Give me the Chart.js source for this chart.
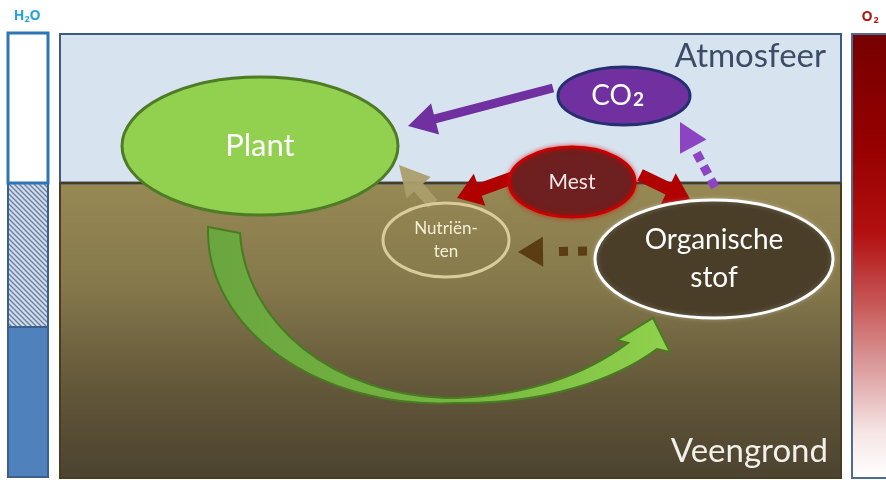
<!DOCTYPE html>
<html>
<head>
<meta charset="utf-8">
<script src="https://cdn.jsdelivr.net/npm/chart.js@4.4.0/dist/chart.umd.min.js"></script>
<style>
  html, body { margin: 0; padding: 0; background: #fff; }
  canvas { display: block; }
</style>
</head>
<body>
<canvas id="diagram" width="886" height="480"></canvas>
<script>
// diagram space is 886 x 480 units, y runs downwards
const nodeNames = ['Plant', 'CO2', 'Mest', 'Nutriënten', 'Organische stof']
const nodeLines = [['Plant'], ['CO'], ['Mest'], ['Nutriën-', 'ten'], ['Organische', 'stof']]
const nodeX = [260, 624, 572, 446, 714]
const nodeY = [146, 96, 182, 240, 259]
const nodeRadiusX = [138, 66, 63, 63, 119]
const nodeRadiusY = [69, 29, 35, 37, 59]

// flows between the nodes: start and end points
const flowStartX = [553, 716, 433, 512, 640, 591]
const flowStartY = [88, 189, 204, 178, 175, 251]
const flowEndX = [408, 680, 399, 457, 690, 518]
const flowEndY = [126, 122, 165, 198, 199, 252]

// green cycle arrow Plant -> Organische stof, outer and inner edges (bezier points)
const cycleOuter = [[208, 227], [205, 330], [320, 410], [457, 403], [545, 404], [615, 380], [657, 349]]
const cycleInner = [[628, 343], [585, 375], [530, 395], [457, 398], [330, 398], [245, 320], [240, 233]]
const cycleHead = [[617, 340], [653, 318], [670, 352]]

// water column (H2O) and oxygen column (O2) bands
const waterBands = ['onverzadigd', 'wisselend', 'verzadigd']
const waterLevels = [33, 183, 327, 477]
const surfaceLevel = 183
const panelTop = 34
const panelBottom = 478

const flowStyle = [
  { color: '#7030a0', shaft: 9, head: 28, width: 32 },
  { color: '#8b45c2', shaft: 9, head: 28, width: 30, dashed: true, period: 15, offset: 2 },
  { color: 'rgba(172,158,108,0.95)', shaft: 12, head: 30, width: 32 },
  { color: '#b00000', shaft: 13, head: 24, width: 34 },
  { color: '#b00000', shaft: 13, head: 24, width: 34 },
  { color: '#5a3d12', shaft: 9, head: 25, width: 30, dashed: true, period: 19, offset: 4 }
]

const nodeStyle = [
  { fill: '#92d050', stroke: '#4e7b25', text: '#ffffff', font: '31px Lato' },
  { fill: '#7030a0', stroke: '#25306e', text: '#ffffff', font: '28px Lato' },
  { fill: '#6e1f1f', stroke: '#c80000', text: '#f2e6e6', font: '21px Lato', glow: 'rgba(220,0,0,0.6)' },
  { fill: null, stroke: '#d8cc9c', text: '#f4eed6', font: '17px Lato' },
  { fill: '#4a3e28', stroke: '#ffffff', text: '#ffffff', font: '28px Lato', glow: 'rgba(255,255,255,0.25)' }
]

function hatchPattern(ctx) {
  const c = document.createElement('canvas')
  c.width = 5
  c.height = 5
  const g = c.getContext('2d')
  g.fillStyle = '#d3dce9'
  g.fillRect(0, 0, 5, 5)
  g.strokeStyle = '#6880a4'
  g.lineWidth = 1.4
  g.beginPath()
  g.moveTo(-1, -1); g.lineTo(6, 6)
  g.moveTo(-1, 4); g.lineTo(1, 6)
  g.moveTo(4, -1); g.lineTo(6, 1)
  g.stroke()
  return ctx.createPattern(c, 'repeat')
}

function drawArrow(ctx, x0, y0, x1, y1, s) {
  const ang = Math.atan2(y1 - y0, x1 - x0)
  const len = Math.hypot(x1 - x0, y1 - y0)
  ctx.save()
  ctx.translate(x0, y0)
  ctx.rotate(ang)
  ctx.fillStyle = s.color
  const base = len - s.head
  if (s.dashed) {
    for (let p = s.offset; p + s.shaft < base - 3; p += s.period) {
      ctx.fillRect(p, -s.shaft / 2, s.shaft, s.shaft)
    }
  } else {
    ctx.fillRect(0, -s.shaft / 2, base + 1, s.shaft)
  }
  ctx.beginPath()
  ctx.moveTo(len, 0)
  ctx.lineTo(base, -s.width / 2)
  ctx.lineTo(base, s.width / 2)
  ctx.closePath()
  ctx.fill()
  ctx.restore()
}

const diagramPlugin = {
  id: 'diagram',
  beforeDatasetsDraw(chart) {
    const ctx = chart.ctx
    const x = v => chart.scales.x.getPixelForValue(v)
    const y = v => chart.scales.y.getPixelForValue(v)
    ctx.save()

    // H2O column
    ctx.fillStyle = '#ffffff'
    ctx.fillRect(x(8), y(waterLevels[0]), x(48) - x(8), y(waterLevels[1]) - y(waterLevels[0]))
    ctx.fillStyle = hatchPattern(ctx)
    ctx.fillRect(x(8), y(waterLevels[1]), x(48) - x(8), y(waterLevels[2]) - y(waterLevels[1]))
    ctx.fillStyle = '#4f81bd'
    ctx.fillRect(x(8), y(waterLevels[2]), x(48) - x(8), y(waterLevels[3]) - y(waterLevels[2]))
    ctx.lineWidth = 2
    ctx.strokeStyle = '#3c5f90'
    ctx.strokeRect(x(8), y(waterLevels[1]), x(48) - x(8), y(waterLevels[2]) - y(waterLevels[1]))
    ctx.strokeRect(x(8), y(waterLevels[2]), x(48) - x(8), y(waterLevels[3]) - y(waterLevels[2]))
    ctx.lineWidth = 3
    ctx.strokeStyle = '#2e75b6'
    ctx.strokeRect(x(8), y(waterLevels[0]), x(48) - x(8), y(waterLevels[1]) - y(waterLevels[0]))
    ctx.fillStyle = '#27a3dc'
    ctx.font = 'bold 14px "Open Sans"'
    ctx.textAlign = 'center'
    ctx.textBaseline = 'alphabetic'
    ctx.fillText('H', x(19), y(20))
    ctx.fillText('O', x(35), y(20))
    ctx.font = 'bold 9px "Open Sans"'
    ctx.fillText('2', x(27), y(22))

    // O2 column
    const og = ctx.createLinearGradient(0, y(panelTop), 0, y(panelBottom))
    og.addColorStop(0, '#760000')
    og.addColorStop(0.25, '#960000')
    og.addColorStop(0.45, '#b31010')
    og.addColorStop(0.6, '#c65454')
    og.addColorStop(0.75, '#dc9c9c')
    og.addColorStop(0.9, '#f6e6e6')
    og.addColorStop(1, '#ffffff')
    ctx.fillStyle = og
    ctx.fillRect(x(852), y(panelTop), x(900) - x(852), y(panelBottom) - y(panelTop))
    ctx.lineWidth = 2
    ctx.strokeStyle = '#4f6b94'
    ctx.strokeRect(x(852), y(panelTop), x(900) - x(852), y(panelBottom) - y(panelTop))
    ctx.fillStyle = '#b01717'
    ctx.font = 'bold 14px "Open Sans"'
    ctx.fillText('O', x(867), y(21))
    ctx.font = 'bold 9px "Open Sans"'
    ctx.fillText('2', x(876), y(23))

    // main panel: atmosphere and peat soil
    ctx.fillStyle = '#d7e3ef'
    ctx.fillRect(x(60), y(panelTop), x(841) - x(60), y(surfaceLevel) - y(panelTop))
    const sg = ctx.createLinearGradient(0, y(surfaceLevel), 0, y(panelBottom))
    sg.addColorStop(0, '#978954')
    sg.addColorStop(0.35, '#85784b')
    sg.addColorStop(0.7, '#625739')
    sg.addColorStop(1, '#4c4330')
    ctx.fillStyle = sg
    ctx.fillRect(x(60), y(surfaceLevel), x(841) - x(60), y(panelBottom) - y(surfaceLevel))
    ctx.lineWidth = 3
    ctx.strokeStyle = '#41587a'
    ctx.beginPath()
    ctx.moveTo(x(60), y(surfaceLevel))
    ctx.lineTo(x(841), y(surfaceLevel))
    ctx.stroke()
    ctx.lineWidth = 2
    ctx.strokeStyle = '#3f5a80'
    ctx.strokeRect(x(60), y(panelTop), x(841) - x(60), y(surfaceLevel) - y(panelTop))
    ctx.strokeStyle = '#4a3c22'
    ctx.strokeRect(x(60), y(surfaceLevel), x(841) - x(60), y(panelBottom) - y(surfaceLevel))

    ctx.textAlign = 'right'
    ctx.font = '33px Lato'
    ctx.fillStyle = '#3c4c66'
    ctx.fillText('Atmosfeer', x(826), y(67))
    ctx.fillStyle = '#f2f0ea'
    ctx.fillText('Veengrond', x(828), y(462))

    // green cycle arrow
    const pts = a => a.map(p => [x(p[0]), y(p[1])])
    const o = pts(cycleOuter)
    const i = pts(cycleInner)
    const h = pts(cycleHead)
    const gg = ctx.createLinearGradient(x(210), 0, x(670), 0)
    gg.addColorStop(0, '#6aa63f')
    gg.addColorStop(0.5, '#74b440')
    gg.addColorStop(1, '#8fd24c')
    ctx.beginPath()
    ctx.moveTo(o[0][0], o[0][1])
    ctx.bezierCurveTo(o[1][0], o[1][1], o[2][0], o[2][1], o[3][0], o[3][1])
    ctx.bezierCurveTo(o[4][0], o[4][1], o[5][0], o[5][1], o[6][0], o[6][1])
    ctx.lineTo(h[2][0], h[2][1])
    ctx.lineTo(h[1][0], h[1][1])
    ctx.lineTo(h[0][0], h[0][1])
    ctx.lineTo(i[0][0], i[0][1])
    ctx.bezierCurveTo(i[1][0], i[1][1], i[2][0], i[2][1], i[3][0], i[3][1])
    ctx.bezierCurveTo(i[4][0], i[4][1], i[5][0], i[5][1], i[6][0], i[6][1])
    ctx.closePath()
    ctx.fillStyle = gg
    ctx.fill()
    ctx.lineWidth = 2
    ctx.strokeStyle = '#4a7a22'
    ctx.stroke()
    ctx.restore()
  },
  afterDatasetsDraw(chart) {
    const ctx = chart.ctx
    const sx = chart.scales.x
    const sy = chart.scales.y
    const meta = chart.getDatasetMeta(0)
    ctx.save()

    // flows under the nodes
    flowStyle.forEach((s, k) => {
      drawArrow(ctx, sx.getPixelForValue(flowStartX[k]), sy.getPixelForValue(flowStartY[k]),
        sx.getPixelForValue(flowEndX[k]), sy.getPixelForValue(flowEndY[k]), s)
    })

    meta.data.forEach((pt, k) => {
      const s = nodeStyle[k]
      const rx = sx.getPixelForValue(nodeX[k] + nodeRadiusX[k]) - pt.x
      const ry = sy.getPixelForValue(nodeY[k] + nodeRadiusY[k]) - pt.y
      ctx.save()
      if (s.glow) {
        ctx.shadowColor = s.glow
        ctx.shadowBlur = 5
      }
      ctx.beginPath()
      ctx.ellipse(pt.x, pt.y, rx, ry, 0, 0, Math.PI * 2)
      if (s.fill) {
        ctx.fillStyle = s.fill
        ctx.fill()
      }
      ctx.lineWidth = 3
      ctx.strokeStyle = s.stroke
      ctx.stroke()
      ctx.restore()

      ctx.fillStyle = s.text
      ctx.font = s.font
      ctx.textAlign = 'center'
      ctx.textBaseline = 'middle'
      const lines = nodeLines[k]
      const size = parseInt(s.font, 10)
      const lh = size * 1.33
      if (nodeNames[k] === 'CO2') {
        ctx.textAlign = 'right'
        ctx.fillText('CO', pt.x + 8, pt.y)
        ctx.textAlign = 'left'
        ctx.font = 'bold 19px Lato'
        ctx.fillText('2', pt.x + 9, pt.y + 4)
      } else {
        lines.forEach((line, j) => {
          ctx.fillText(line, pt.x, pt.y + (j - (lines.length - 1) / 2) * lh)
        })
      }
    })
    ctx.restore()
  }
}

new Chart(document.getElementById('diagram'), {
  type: 'scatter',
  data: {
    datasets: [{
      label: 'nodes',
      data: nodeX.map((v, k) => ({ x: v, y: nodeY[k] })),
      pointRadius: 0,
      pointHoverRadius: 0
    }]
  },
  options: {
    responsive: false,
    animation: false,
    events: [],
    layout: { padding: 0 },
    plugins: { legend: { display: false }, tooltip: { enabled: false } },
    scales: {
      x: { type: 'linear', min: 0, max: 886, display: false },
      y: { type: 'linear', min: 0, max: 480, reverse: true, display: false }
    }
  },
  plugins: [diagramPlugin]
})
</script>
</body>
</html>
